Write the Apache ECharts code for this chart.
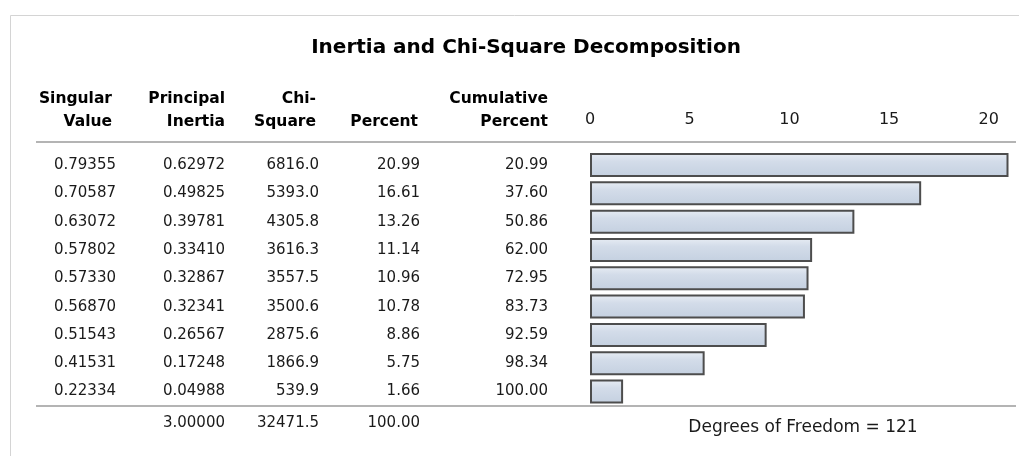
<!DOCTYPE html>
<html>
<head>
<meta charset="utf-8">
<script src="https://cdn.jsdelivr.net/npm/echarts@6/dist/echarts.min.js"></script>
<style>
  html, body { margin: 0; padding: 0; background: #fff; }
  #main { width: 1019px; height: 456px; }
</style>
</head>
<body>
<div id="main"></div>
<script>
// table columns, one value per dimension
const singularValue = [0.79355, 0.70587, 0.63072, 0.57802, 0.57330, 0.56870, 0.51543, 0.41531, 0.22334]
const principalInertia = [0.62972, 0.49825, 0.39781, 0.33410, 0.32867, 0.32341, 0.26567, 0.17248, 0.04988]
const chiSquare = [6816.0, 5393.0, 4305.8, 3616.3, 3557.5, 3500.6, 2875.6, 1866.9, 539.9]
const percent = [20.99, 16.61, 13.26, 11.14, 10.96, 10.78, 8.86, 5.75, 1.66]
const cumulativePercent = [20.99, 37.60, 50.86, 62.00, 72.95, 83.73, 92.59, 98.34, 100.00]
// totals row
const totalRow = ['', '3.00000', '32471.5', '100.00', '']
const degreesOfFreedom = 121
const axisTicks = [0, 5, 10, 15, 20]

const headers = [
  ['Singular', 'Value'],
  ['Principal', 'Inertia'],
  ['Chi-', 'Square'],
  ['', 'Percent'],
  ['Cumulative', 'Percent']
]
const digits = [5, 5, 1, 2, 2]
const columns = [singularValue, principalInertia, chiSquare, percent, cumulativePercent]

// layout
const FONT = 'DejaVu Sans'
const gridLeft = 590
const gridTop = 150.8
const rowH = 28.33
const colRight = [116, 225, 319, 420, 548]
const headRight = [112, 225, 316, 418, 548]
const lineY1 = 142
const lineY2 = 406

const chart = echarts.init(document.getElementById('main'))

const yAxes = columns.map((col, i) => ({
  type: 'category',
  inverse: true,
  position: 'left',
  offset: gridLeft - colRight[i],
  data: col.map(v => v.toFixed(digits[i])),
  axisLine: {show: false},
  axisTick: {show: false},
  splitLine: {show: false},
  axisLabel: {
    interval: 0,
    margin: 0,
    fontFamily: FONT,
    fontSize: 15,
    color: '#1a1a1a'
  }
}))

const graphics = []
// frame
graphics.push({type: 'line', shape: {x1: 10.5, y1: 15.5, x2: 1019, y2: 15.5}, style: {stroke: '#d4d4d4', lineWidth: 1}})
graphics.push({type: 'line', shape: {x1: 10.5, y1: 15.5, x2: 10.5, y2: 456}, style: {stroke: '#d4d4d4', lineWidth: 1}})
// title
graphics.push({
  type: 'text', x: 526, y: 48,
  style: {text: 'Inertia and Chi-Square Decomposition', font: 'bold 20px "' + FONT + '"', fill: '#000', align: 'center', verticalAlign: 'middle'}
})
// headers
headers.forEach((h, i) => {
  h.forEach((t, k) => {
    if (!t) return
    graphics.push({
      type: 'text', x: headRight[i], y: k === 0 ? 99 : 122,
      style: {text: t, font: 'bold 15.5px "' + FONT + '"', fill: '#000', align: 'right', verticalAlign: 'middle'}
    })
  })
})
// rules
;[lineY1, lineY2].forEach(y => {
  graphics.push({type: 'line', shape: {x1: 36, y1: y, x2: 1016, y2: y}, style: {stroke: '#b4b4b4', lineWidth: 2}})
})
// totals
totalRow.forEach((t, i) => {
  if (!t) return
  graphics.push({
    type: 'text', x: colRight[i], y: 423,
    style: {text: t, font: '15px "' + FONT + '"', fill: '#1a1a1a', align: 'right', verticalAlign: 'middle'}
  })
})
graphics.push({
  type: 'text', x: 803, y: 428,
  style: {text: 'Degrees of Freedom = ' + degreesOfFreedom, font: '17px "' + FONT + '"', fill: '#1a1a1a', align: 'center', verticalAlign: 'middle'}
})

chart.setOption({
  backgroundColor: '#fff',
  animation: false,
  grid: {left: gridLeft, top: gridTop, right: 10.5, height: rowH * percent.length},
  xAxis: {
    type: 'value',
    position: 'top',
    min: axisTicks[0],
    max: Math.max(...percent),
    interval: axisTicks[1] - axisTicks[0],
    axisLine: {show: false},
    axisTick: {show: false},
    splitLine: {show: false},
    axisLabel: {
      showMaxLabel: false,
      margin: 23,
      fontFamily: FONT,
      fontSize: 16,
      color: '#1a1a1a'
    }
  },
  yAxis: yAxes,
  series: [{
    type: 'bar',
    yAxisIndex: 4,
    data: percent,
    barWidth: 24,
    itemStyle: {
      borderColor: '#4d4d4d',
      borderWidth: 2,
      color: new echarts.graphic.LinearGradient(0, 0, 0, 1, [
        {offset: 0, color: '#e8edf4'},
        {offset: 0.35, color: '#d3dce9'},
        {offset: 1, color: '#c4d0e0'}
      ])
    }
  }],
  graphic: graphics
})
</script>
</body>
</html>
